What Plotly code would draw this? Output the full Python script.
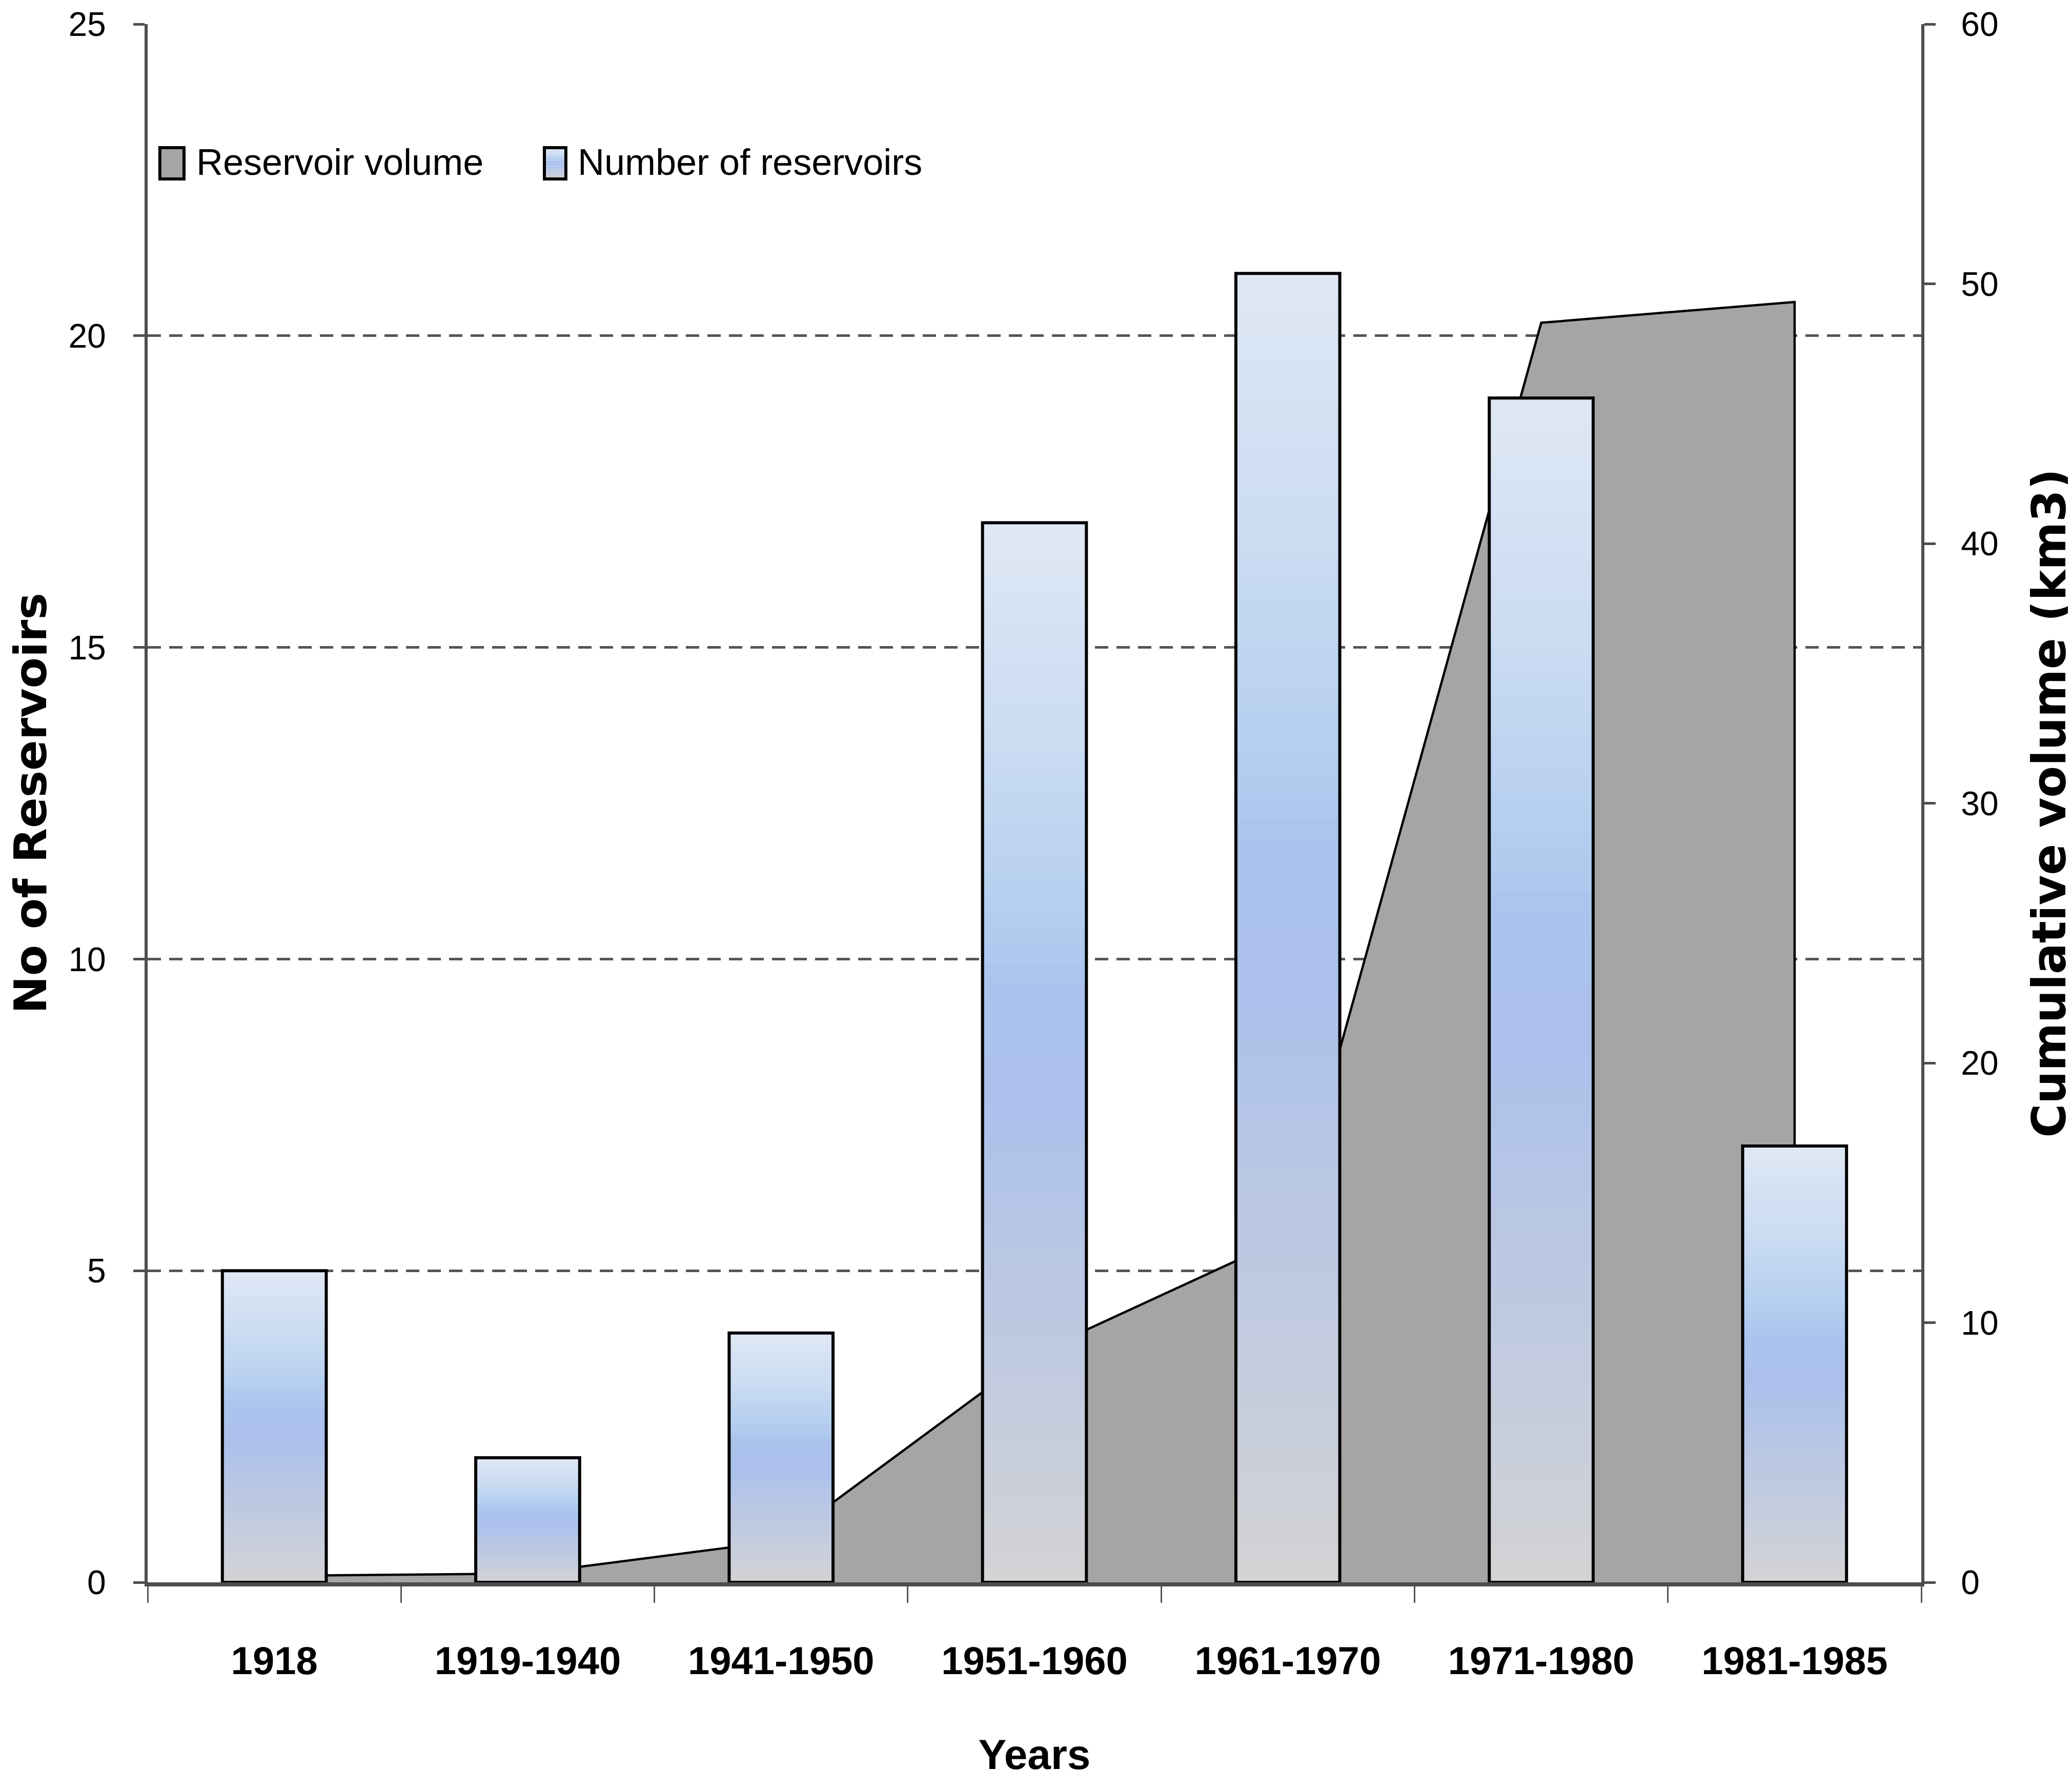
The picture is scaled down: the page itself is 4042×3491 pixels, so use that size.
import plotly.graph_objects as go
from plotly.colors import sample_colorscale

# ---------------- data ----------------
years = ["1918", "1919-1940", "1941-1950", "1951-1960", "1961-1970", "1971-1980", "1981-1985"]
num_reservoirs = [5, 2, 4, 17, 21, 19, 7]
cum_volume = [0.25, 0.34, 1.6, 8.8, 13.3, 48.5, 49.3]
left_ticks = [0, 5, 10, 15, 20, 25]
right_ticks = [0, 10, 20, 30, 40, 50, 60]
legend_labels = ["Reservoir volume", "Number of reservoirs"]

# ---------------- style ----------------
W, H = 4042, 3491
SANS = "Liberation Sans, Arial, sans-serif"
TITLE_FONT = "DejaVu Sans, Verdana, sans-serif"
AXIS_GREY = "#4D4D4D"
AREA_GREY = "#A5A5A5"
BAR_W = 0.41

bar_scale = [
    [0.00, "rgb(211,211,211)"],
    [0.12, "rgb(200,206,220)"],
    [0.30, "rgb(185,199,228)"],
    [0.45, "rgb(171,193,235)"],
    [0.55, "rgb(170,194,236)"],
    [0.65, "rgb(182,208,240)"],
    [0.80, "rgb(203,220,242)"],
    [1.00, "rgb(223,231,245)"],
]

fig = go.Figure()

# cumulative volume area (base axis, right side -> drawn below the bars)
fig.add_trace(go.Scatter(
    x=years + [years[-1]], y=cum_volume + [0],
    mode="lines", fill="tozeroy", fillcolor=AREA_GREY,
    line=dict(color="black", width=4.5),
    name=legend_labels[0], showlegend=False, hoverinfo="skip",
    xaxis="x", yaxis="y",
))

# number of reservoirs: vertical gradient built from stacked slices of each bar
N = 60
slice_cols = sample_colorscale(bar_scale, [(k + 0.5) / N for k in range(N)])
for k in range(N):
    base = [v * k / N for v in num_reservoirs]
    top = [v * min(k + 1.6, N) / N for v in num_reservoirs]
    fig.add_trace(go.Bar(
        x=years, y=[t - b for t, b in zip(top, base)], base=base, width=BAR_W,
        marker=dict(color=slice_cols[k], line=dict(width=0)),
        showlegend=False, hoverinfo="skip", xaxis="x", yaxis="y2",
    ))
fig.add_trace(go.Bar(
    x=years, y=num_reservoirs, width=BAR_W,
    marker=dict(color="rgba(0,0,0,0)", line=dict(color="black", width=6)),
    name=legend_labels[1], showlegend=False, xaxis="x", yaxis="y2",
))

# ---------------- manual legend (large symbols) ----------------
shapes = []
ly0, ly1 = 0.9006, 0.9207
shapes.append(dict(type="rect", xref="paper", yref="paper", x0=0.0069, x1=0.0205, y0=ly0, y1=ly1,
                   fillcolor=AREA_GREY, line=dict(color="black", width=6), layer="above"))
NB = 12
band_cols = sample_colorscale(bar_scale, [(k + 0.5) / NB for k in range(NB)])
for k in range(NB):
    shapes.append(dict(type="rect", xref="paper", yref="paper", x0=0.2237, x1=0.2358,
                       y0=ly0 + (ly1 - ly0) * k / NB, y1=ly0 + (ly1 - ly0) * (k + 1) / NB,
                       fillcolor=band_cols[k], line=dict(width=0), layer="above"))
shapes.append(dict(type="rect", xref="paper", yref="paper", x0=0.2237, x1=0.2358, y0=ly0, y1=ly1,
                   fillcolor="rgba(0,0,0,0)", line=dict(color="black", width=6), layer="above"))

annotations = [
    dict(text=legend_labels[0], xref="paper", yref="paper", x=0.0269, y=0.9115,
         xanchor="left", yanchor="middle", showarrow=False,
         font=dict(family=SANS, size=72, color="black")),
    dict(text=legend_labels[1], xref="paper", yref="paper", x=0.2419, y=0.9115,
         xanchor="left", yanchor="middle", showarrow=False,
         font=dict(family=SANS, size=72, color="black")),
]

fig.update_layout(
    width=W, height=H,
    paper_bgcolor="white", plot_bgcolor="white",
    margin=dict(l=280, r=302, t=39, b=413, autoexpand=False),
    barmode="overlay", showlegend=False,
    shapes=shapes, annotations=annotations,
    xaxis=dict(
        type="category", range=[-0.5, 6.5], automargin=False,
        showline=True, linecolor=AXIS_GREY, linewidth=8,
        ticks="outside", tickson="boundaries", ticklen=32, tickwidth=3, tickcolor="#555555",
        tickfont=dict(family=SANS, size=76, color="black", weight="bold"),
        ticklabelstandoff=80,
        showgrid=False, zeroline=False,
        title=dict(text="Years", standoff=115,
                   font=dict(family=SANS, size=82, color="black", weight="bold")),
    ),
    yaxis=dict(
        side="right", range=[0, 60], tickvals=right_ticks, automargin=False,
        showline=True, linecolor=AXIS_GREY, linewidth=6,
        ticks="outside", ticklen=22, tickwidth=5, tickcolor=AXIS_GREY,
        tickfont=dict(family=SANS, size=66, color="black"),
        ticklabelstandoff=36,
        showgrid=False, zeroline=False,
        title=dict(text="Cumulative volume (km3)", standoff=72,
                   font=dict(family=TITLE_FONT, size=90, color="black", weight="bold")),
    ),
    yaxis2=dict(
        overlaying="y", side="left", range=[0, 25], tickvals=left_ticks, automargin=False,
        showline=True, linecolor=AXIS_GREY, linewidth=6,
        ticks="outside", ticklen=22, tickwidth=5, tickcolor=AXIS_GREY,
        tickfont=dict(family=SANS, size=66, color="black"),
        ticklabelstandoff=40,
        showgrid=True, gridcolor="#555555", gridwidth=5, griddash="26px,16px",
        zeroline=False,
        title=dict(text="No of Reservoirs", standoff=68,
                   font=dict(family=TITLE_FONT, size=88, color="black", weight="bold")),
    ),
)

fig.write_html("out.html")
